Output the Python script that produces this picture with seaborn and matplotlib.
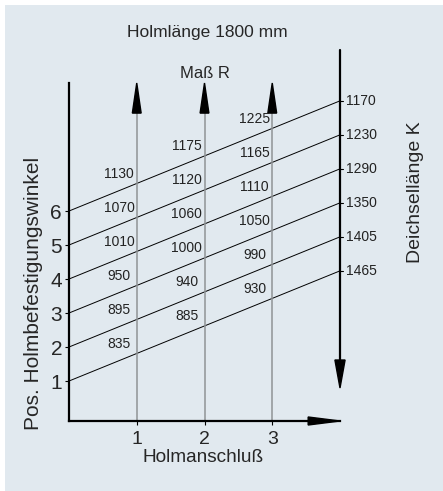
import numpy as np
import pandas as pd
import matplotlib
matplotlib.use("Agg")
import matplotlib.pyplot as plt
from matplotlib.patches import Rectangle
import seaborn as sns

# ---- data ----
positions = [1, 2, 3, 4, 5, 6]                      # Pos. Holmbefestigungswinkel
holm_anschluss = [1, 2, 3]                           # Holmanschluß
mass_r_1 = [835, 895, 950, 1010, 1070, 1130]         # Maß R at Holmanschluß 1
mass_r_2 = [885, 940, 1000, 1060, 1120, 1175]        # Maß R at Holmanschluß 2
mass_r_3 = [930, 990, 1050, 1110, 1165, 1225]        # Maß R at Holmanschluß 3
deichsel_k = [1465, 1405, 1350, 1290, 1230, 1170]    # Deichsellänge K
line_rise = 3.24                                     # rise of each line over the x span 0..4
x_end = 4

sns.set_theme(style="white")
plt.rcParams["font.family"] = ["Liberation Sans", "DejaVu Sans"]

W, H = 443, 491
fig = plt.figure(figsize=(W / 100, H / 100), dpi=100, facecolor="white")
bg = "#e1e9ef"
fig.patches.append(Rectangle((5 / W, 0), 1 - 5 / W, 1 - 5 / H, transform=fig.transFigure,
                             facecolor=bg, edgecolor="none", zorder=-10))

# axes: left spine at px 69, right at 340, bottom at 421, top at 83
ax = fig.add_axes([69 / W, 1 - 421 / H, (340 - 69) / W, (421 - 83) / H])
ax.set_facecolor("none")
ax.set_zorder(5)
y_lo, y_hi = -0.176, 9.765
ax.set_xlim(0, x_end)
ax.set_ylim(y_lo, y_hi)

# sloped lines
rows = []
for p in positions:
    rows.append({"x": 0, "y": p, "pos": p})
    rows.append({"x": x_end, "y": p + line_rise, "pos": p})
df = pd.DataFrame(rows)
sns.lineplot(data=df, x="x", y="y", units="pos", estimator=None, color="black",
             lw=0.7, ax=ax, legend=False)

# vertical gray lines with arrowheads
slope = line_rise / x_end
for j in holm_anschluss:
    ax.plot([j, j], [y_lo, 8.95], color="#8f9396", lw=1.1, clip_on=False, zorder=2)
    ax.fill([j - 0.065, j + 0.065, j], [8.88, 8.88, y_hi], color="black", clip_on=False, zorder=3)

# value labels
for j, vals in zip(holm_anschluss, [mass_r_1, mass_r_2, mass_r_3]):
    for p, v in zip(positions, vals):
        ax.text(j - 0.26, p + slope * j + 0.29, str(v), ha="center", va="center",
                fontsize=10, color="#222222")

# right axis (Deichsellänge K)
ax.plot([x_end, x_end], [10.735, 1.5], color="black", lw=1.6, clip_on=False, zorder=3)
ax.fill([x_end - 0.075, x_end + 0.075, x_end], [1.618, 1.618, 0.794], color="black",
        clip_on=False, zorder=3)
for p, k in zip(positions, deichsel_k):
    yy = p + line_rise
    ax.plot([x_end, x_end + 0.05], [yy, yy], color="black", lw=0.8, clip_on=False)
    ax.text(x_end + 0.09, yy, str(k), ha="left", va="center", fontsize=10, color="#222222",
            clip_on=False)

# x axis arrowhead
ax.fill([3.53, 3.53, x_end], [y_lo + 0.118, y_lo - 0.118, y_lo], color="black",
        clip_on=False, zorder=3)

# spines & ticks
sns.despine(ax=ax, top=True, right=True)
for s in ["left", "bottom"]:
    ax.spines[s].set_linewidth(1.6)
    ax.spines[s].set_color("black")
ax.set_xticks(holm_anschluss)
ax.set_yticks(positions)
ax.tick_params(axis="both", which="both", direction="out", length=3, width=0.8,
               color="black", left=True, bottom=True)
ax.tick_params(axis="y", labelsize=15, pad=2)
ax.tick_params(axis="x", labelsize=14, pad=4)
ax.set_xlabel("")
ax.set_ylabel("")

# texts
fig.text(207 / W, 1 - 33 / H, "Holmlänge 1800 mm", ha="center", va="center", fontsize=12.5)
fig.text(205 / W, 1 - 73 / H, "Maß R", ha="center", va="center", fontsize=12)
fig.text(34 / W, 1 - 293 / H, "Pos. Holmbefestigungswinkel", ha="center", va="center",
         rotation=90, fontsize=15)
fig.text(203 / W, 1 - 458 / H, "Holmanschluß", ha="center", va="center", fontsize=13.7)
fig.text(415 / W, 1 - 192 / H, "Deichsellänge K", ha="center", va="center", rotation=90,
         fontsize=14)

fig.savefig("out.png", dpi=100, facecolor="white")
